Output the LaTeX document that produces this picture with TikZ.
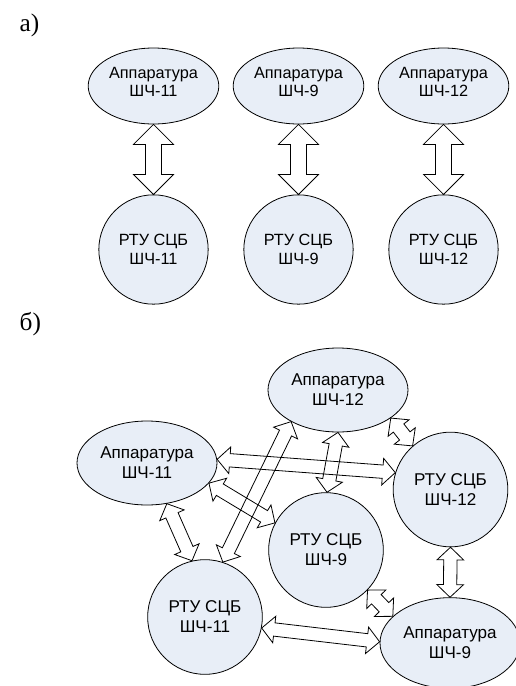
\documentclass[tikz,border=0pt]{standalone}
\usepackage{fontspec}
\setmainfont{Liberation Serif}
\setsansfont{Liberation Sans}
\usetikzlibrary{calc,shapes.geometric}
\definecolor{nodefill}{RGB}{232,238,247}

\tikzset{
  % hollow two-headed arrow: head length / head half-width / shaft half-width
  biarrow/.style args={#1/#2/#3}{line width=0.6pt,
    to path={let \p1=(\tikztostart), \p2=(\tikztotarget),
      \n1={atan2(\y2-\y1,\x2-\x1)}, \n2={veclen(\x2-\x1,\y2-\y1)} in
      [shift={(\p1)}, rotate=\n1]
      (0pt,0pt) -- (#1,#2) -- (#1,#3) -- ({\n2*1pt-#1},#3) -- ({\n2*1pt-#1},#2)
      -- ({\n2*1pt},0pt) -- ({\n2*1pt-#1},-#2) -- ({\n2*1pt-#1},-#3)
      -- (#1,-#3) -- (#1,-#2) -- cycle}},
  bigarrow/.style={biarrow=15pt/15pt/6pt},
  smallarrow/.style={biarrow=9.5pt/10pt/5pt},
  unit/.style={draw, fill=nodefill, line width=0.6pt, inner sep=0pt,
    align=center, font=\sffamily},
  apA/.style={unit, ellipse, minimum width=98pt, minimum height=57pt,
    text depth=6pt, font=\sffamily\fontsize{12.2}{13.8}\selectfont},
  rtuA/.style={unit, circle, minimum size=82pt,
    font=\sffamily\fontsize{12.2}{13.8}\selectfont},
  apB/.style={unit, ellipse, minimum width=105pt, minimum height=63pt,
    font=\sffamily\fontsize{12.8}{15}\selectfont},
  rtuB/.style={unit, circle, minimum size=86pt,
    font=\sffamily\fontsize{12.8}{15}\selectfont},
  part/.style={anchor=base west, font=\fontsize{19}{19}\selectfont}
}

\begin{document}
\begin{tikzpicture}[x=0.75pt, y=-0.75pt]
  \clip (0,0) rectangle (516,686);

  % а) separate links
  \node[part] (labA) at (15,31) {а)};
  \node[apA] (apA11) at (153.5,86) {Аппаратура\\ШЧ-11};
  \node[apA] (apA9) at (298.5,86) {Аппаратура\\ШЧ-9};
  \node[apA] (apA12) at (443.5,86) {Аппаратура\\ШЧ-12};
  \node[rtuA] (rtuA11) at (153.5,249.5) {РТУ СЦБ\\ШЧ-11};
  \node[rtuA] (rtuA9) at (298.5,249.5) {РТУ СЦБ\\ШЧ-9};
  \node[rtuA] (rtuA12) at (443.5,249.5) {РТУ СЦБ\\ШЧ-12};

  \draw[bigarrow] (apA11.south) to (rtuA11.north);
  \draw[bigarrow] (apA9.south) to (rtuA9.north);
  \draw[bigarrow] (apA12.south) to (rtuA12.north);

  % б) every unit linked with the others
  \node[part] (labB) at (15,330) {б)};
  \node[apB] (apB12) at (338,390) {Аппаратура\\ШЧ-12};
  \node[apB] (apB11) at (147,463) {Аппаратура\\ШЧ-11};
  \node[apB, minimum height=68pt] (apB9) at (450,643) {Аппаратура\\ШЧ-9};
  \node[rtuB] (rtuB12) at (450.5,489.5) {РТУ СЦБ\\ШЧ-12};
  \node[rtuB] (rtuB9) at (326,550) {РТУ СЦБ\\ШЧ-9};
  \node[rtuB] (rtuB11) at (205,617) {РТУ СЦБ\\ШЧ-11};

  \draw[smallarrow] (apB11.3) to (rtuB12.163);
  \draw[smallarrow] (apB11.-18) to (rtuB9.152);
  \draw[smallarrow] (apB11.-64) to (rtuB11.103);
  \draw[smallarrow] (rtuB11.72) to (apB12.214);
  \draw[smallarrow] (apB12.-90) to (rtuB9.89);
  \draw[smallarrow] (apB12.-28) to (rtuB12.131);
  \draw[smallarrow] (rtuB12.south) to (apB9.north);
  \draw[smallarrow] (rtuB9.-44) to (apB9.155);
  \draw[smallarrow] (rtuB11.-11) to (apB9.179);
\end{tikzpicture}
\end{document}
